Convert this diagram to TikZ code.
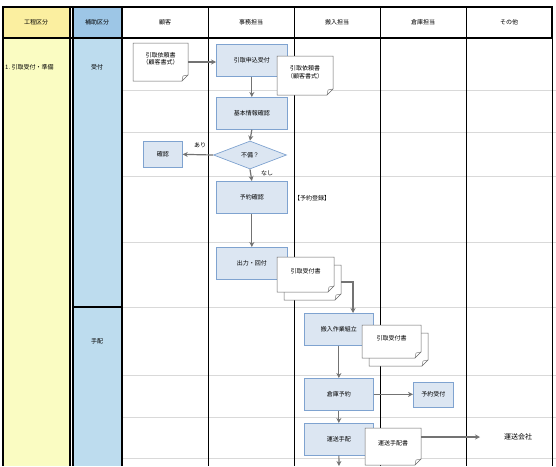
\documentclass[tikz,border=0pt]{standalone}
\usepackage{fontspec}
\setmainfont{Noto Sans CJK JP}
\usetikzlibrary{shapes.geometric,arrows.meta}
\definecolor{boxfill}{HTML}{DCE6F2}
\definecolor{boxline}{HTML}{7FA3D0}
\definecolor{yel}{HTML}{FAFCC2}
\definecolor{yelh}{HTML}{FBEFA0}
\definecolor{blu}{HTML}{BDDCEE}
\definecolor{bluh}{HTML}{9DC6E6}
\tikzset{
 x=1pt,y=-1pt,
 every node/.style={font=\fontsize{6}{7.5}\selectfont,inner sep=0pt},
 proc/.style={draw=boxline,fill=boxfill,line width=0.7pt,minimum width=71pt,minimum height=32pt,anchor=north west},
 small/.style={draw=boxline,fill=boxfill,line width=0.7pt,anchor=north west},
 arr/.style={draw=black!55,line width=1.2pt,-{Stealth[length=5pt,width=5pt]}},
 grid/.style={draw=black!15,line width=0.5pt},
 lane/.style={draw=black,line width=0.5pt}
}
\newcommand{\docshape}[5]{% x1 y1 x2 y2 name
 \path[draw=black!60,fill=white,line width=0.5pt] (#1,#2) -- (#3,#2) -- (#3,#4-6) -- (#3-6,#4) -- (#1,#4) -- cycle;
 \draw[black!60,line width=0.4pt] (#3,#4-6) -- (#3-5,#4-5) -- (#3-6,#4);
 \coordinate (#5) at ({(#1+#3)/2},{(#2+#4)/2-3});}
\begin{document}
\begin{tikzpicture}
\useasboundingbox (0,0) rectangle (556,466);
% backgrounds
\fill[yel] (3,38) rectangle (70,466);
\fill[yelh] (3,7) rectangle (70,38);
\fill[blu] (73,38) rectangle (122,466);
\fill[bluh] (73,7) rectangle (122,38);
% grid rows
\foreach \yy in {90,132,176,242,375,417,458}{\draw[grid] (122,\yy) -- (556,\yy);}
\draw[grid] (122,307) -- (556,307);
% lanes
\foreach \xx in {208,294,380,466}{\draw[lane] (\xx,7) -- (\xx,466);}
\draw[line width=1.2pt] (3,7) rectangle (552,38);
\draw[line width=1.2pt] (3,7) -- (3,466);
\draw[line width=1.2pt] (70,7) -- (70,466);
\draw[line width=1.2pt] (73,7) -- (73,466);
\draw[line width=1.2pt] (122,7) -- (122,466);
\draw[line width=0.8pt] (552,7) -- (552,466);
\draw[line width=1.2pt] (73,307) -- (122,307);
% headers
\node (h1) at (36,22) {工程区分};
\node (h2) at (97,22) {補助区分};
\node (h3) at (165,22) {顧客};
\node (h4) at (251,22) {事務担当};
\node (h5) at (337,22) {搬入担当};
\node (h6) at (423,22) {倉庫担当};
\node (h7) at (509,22) {その他};
\node[anchor=west] (p1) at (5,67) {1.\ 引取受付・準備};
\node (s1) at (97,67) {受付};
\node (s2) at (97,341) {手配};
% nodes
\node[proc] (a1) at (216,44) {引取申込受付};
\node[proc] (a2) at (216,97) {基本情報確認};
\node[diamond,draw=boxline,fill=boxfill,line width=0.7pt,minimum width=73pt,minimum height=28pt,aspect=2.6] (d) at (250,155) {不備？};
\node[small,minimum width=39pt,minimum height=26pt] (k) at (143,141) {確認};
\node[proc] (a3) at (216,181) {予約確認};
\node[anchor=west] (reg) at (294,198) {【予約登録】};
\node[proc] (a4) at (216,247) {出力・回付};
\node[proc,minimum width=69pt] (b1) at (304,313) {搬入作業組立};
\node[proc,minimum width=69pt] (b2) at (304,378) {倉庫予約};
\node[small,minimum width=40pt,minimum height=25pt] (c1) at (413,381.5) {予約受付};
\node[proc,minimum width=69pt] (b3) at (304,423) {運送手配};
\node (oth) at (518,437) {\fontsize{7}{8}\selectfont 運送会社};
\coordinate (ex) at (480,437);
% documents
\docshape{133}{43}{188}{81}{doc1}
\node[align=center] (t1) at (doc1) {引取依頼書\\（顧客書式）};
\docshape{277}{56}{333}{95}{doc2}
\node[align=center] (t2) at (doc2) {引取依頼書\\（顧客書式）};
\docshape{284}{265}{341}{300}{doc3b}
\docshape{277}{257}{334}{292}{doc3}
\node (t3) at (doc3) {引取受付書};
\docshape{369}{333}{428}{366}{doc4b}
\docshape{362}{325}{421}{358}{doc4}
\node (t4) at (doc4) {引取受付書};
\docshape{365}{428}{421}{465}{doc5}
\node (t5) at (doc5) {運送手配書};
% arrows
\coordinate (s3) at (341,282);
\coordinate (k3) at (353,282);
\draw[arr] (188,62) -- (a1.west |- 0,62);
\draw[arr] (a1.south) -- (a2.north);
\draw[arr] (a2.south) -- (d.north);
\draw[arr] (d.west) -- (k.east);
\node (ari) at (200,145) {あり};
\draw[arr] (d.south) -- (a3.north);
\node (nasi) at (267,173) {なし};
\draw[arr] (a3.south) -- (a4.north);
\draw[arr] (s3) -- (k3) -- (k3 |- b1.north);
\draw[arr] (b1.south) -- (b2.north);
\draw[arr] (b2.east) -- (c1.west);
\draw[arr] (b2.south) -- (b3.north);
\draw[arr] (421,437) -- (ex);
\coordinate (bot) at (339,466);
\draw[arr] (b3.south) -- (bot);
\end{tikzpicture}
\end{document}
